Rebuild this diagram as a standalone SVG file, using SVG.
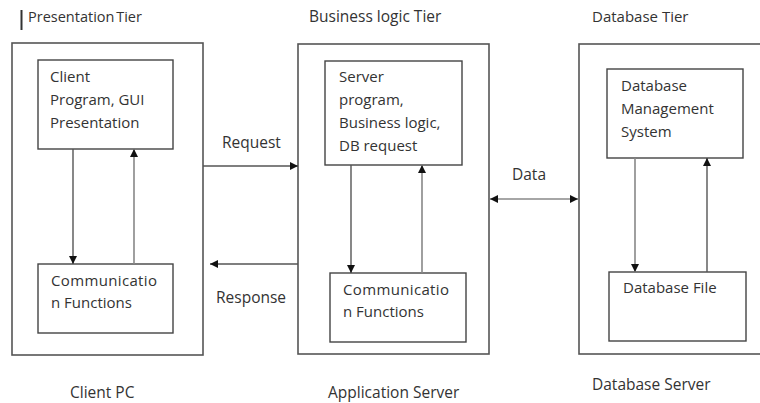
<svg xmlns="http://www.w3.org/2000/svg" width="760" height="403" viewBox="0 0 760 403">
<defs>
<style>
.box{fill:none;stroke:#555;stroke-width:1.6}
.inner{fill:#fff;stroke:#444;stroke-width:1.4}
.ln{stroke:#555;stroke-width:1.4;fill:none}
.ln2{stroke:#888;stroke-width:1.6;fill:none}
text{font-family:"Open Sans","Liberation Sans",sans-serif;font-size:15px;fill:#333}
.sm{font-size:14.5px;word-spacing:-2px}
.lg{font-size:15.5px}
</style>
<marker id="ah" viewBox="0 0 10 10" refX="10" refY="5" markerWidth="8" markerHeight="8" markerUnits="userSpaceOnUse" orient="auto-start-reverse">
<path d="M0,0 L10,5 L0,10 z" fill="#111"/>
</marker>
</defs>
<rect width="760" height="403" fill="#fff"/>
<line x1="21.5" y1="10" x2="21.5" y2="30" stroke="#333" stroke-width="2"/>
<text class="sm" x="28" y="22">Presentation Tier</text>
<text class="lg" x="309" y="22">Business logic Tier</text>
<text x="592" y="22">Database Tier</text>

<g id="client-pc">
<rect class="box" x="12" y="43" width="191" height="312"/>
<text class="lg" x="70" y="398">Client PC</text>
</g>
<g id="client-program">
<rect class="inner" x="38" y="60" width="135" height="89"/>
<text x="50" y="82">Client</text>
<text x="50" y="105">Program, GUI</text>
<text x="50" y="128">Presentation</text>
</g>
<g id="client-comm">
<rect class="inner" x="38" y="264" width="135" height="69"/>
<text x="51" y="286" textLength="106">Communicatio</text>
<text x="51" y="308">n Functions</text>
</g>

<g id="application-server">
<rect class="box" x="298" y="44" width="191" height="310"/>
<text class="lg" x="328" y="398">Application Server</text>
</g>
<g id="server-program">
<rect class="inner" x="325" y="61" width="137" height="104"/>
<text x="339" y="82">Server</text>
<text x="339" y="105">program,</text>
<text x="339" y="128">Business logic,</text>
<text x="339" y="151">DB request</text>
</g>
<g id="server-comm">
<rect class="inner" x="330" y="273" width="136" height="69"/>
<text x="343" y="295" textLength="106">Communicatio</text>
<text x="343" y="317">n Functions</text>
</g>

<g id="database-server">
<rect class="box" x="579" y="44" width="200" height="310"/>
<text class="lg" x="592" y="390">Database Server</text>
</g>
<g id="dbms">
<rect class="inner" x="607" y="69" width="136" height="89"/>
<text x="621" y="91">Database</text>
<text x="621" y="114">Management</text>
<text x="621" y="137">System</text>
</g>
<g id="database-file">
<rect class="inner" x="609" y="272" width="137" height="69"/>
<text x="623" y="293">Database File</text>
</g>

<g id="connectors">
<line class="ln" x1="73" y1="149" x2="73" y2="264" marker-end="url(#ah)"/>
<line class="ln2" x1="134" y1="264" x2="134" y2="149" marker-end="url(#ah)"/>
<line class="ln" x1="351" y1="165" x2="351" y2="273" marker-end="url(#ah)"/>
<line class="ln2" x1="422" y1="273" x2="422" y2="165" marker-end="url(#ah)"/>
<line class="ln2" x1="635" y1="158" x2="635" y2="272" marker-end="url(#ah)"/>
<line class="ln" x1="707" y1="272" x2="707" y2="158" marker-end="url(#ah)"/>
<line class="ln" x1="203" y1="166" x2="298" y2="166" marker-end="url(#ah)"/>
<line class="ln" x1="298" y1="264" x2="210" y2="264" marker-end="url(#ah)"/>
<line class="ln2" x1="490" y1="199" x2="578" y2="199" marker-start="url(#ah)" marker-end="url(#ah)"/>
<text class="lg" x="222" y="148">Request</text>
<text class="lg" x="216" y="303">Response</text>
<text class="lg" x="512" y="180">Data</text>
</g>
</svg>
